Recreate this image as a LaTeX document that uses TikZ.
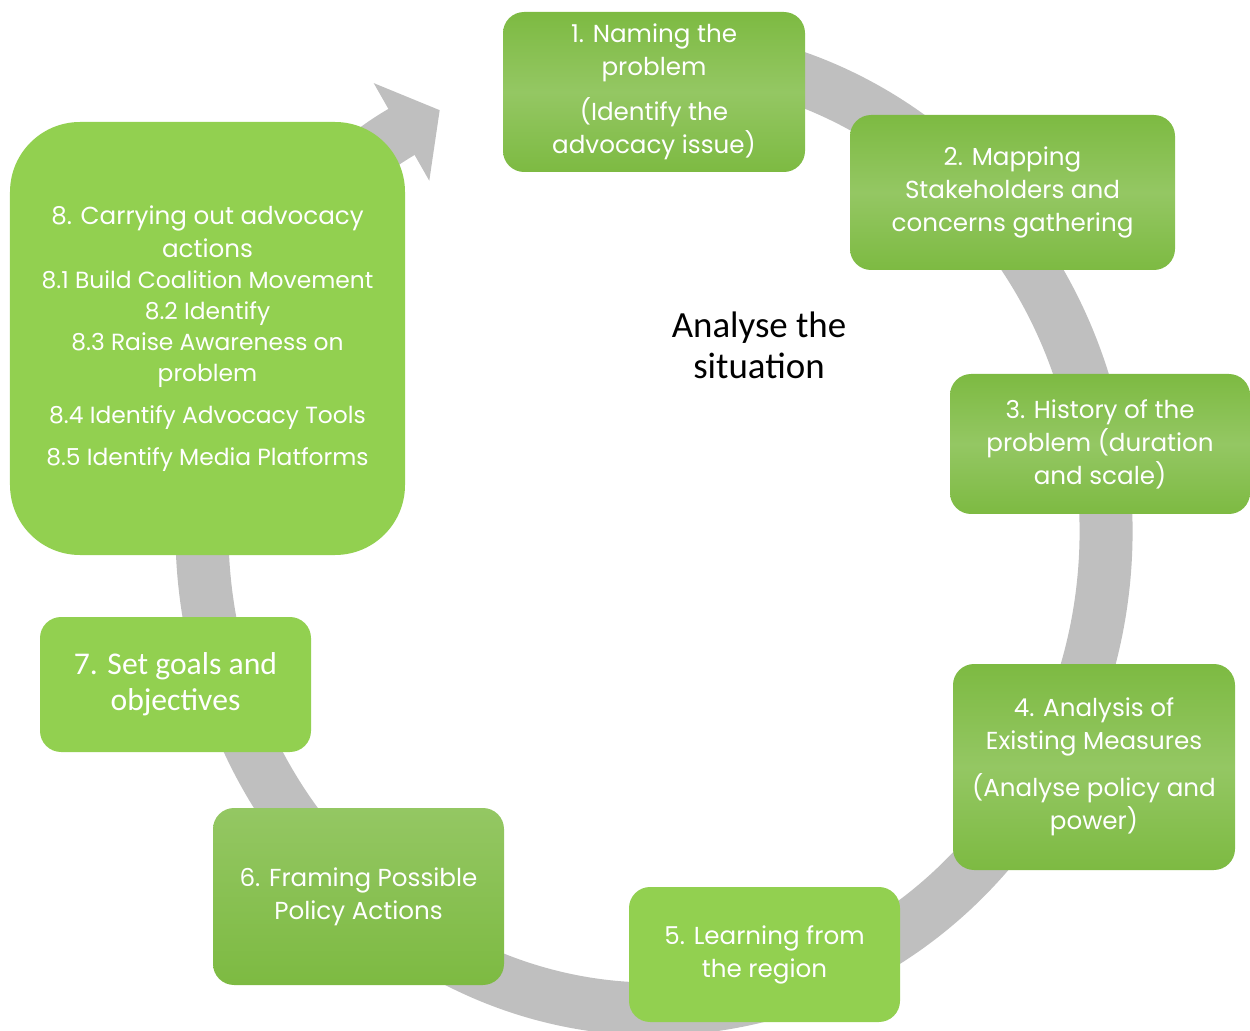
\documentclass[tikz,border=0pt]{standalone}
\usepackage{fontspec}
\newfontfamily\stepfont{Poppins}
\newfontfamily\calfont{Carlito}
\usetikzlibrary{arrows.meta}
\definecolor{ringgrey}{RGB}{191,191,191}
\definecolor{leafdark}{RGB}{125,186,66}
\definecolor{leaflight}{RGB}{148,199,99}
\definecolor{leafflat}{RGB}{146,208,80}
\newcommand{\headsize}{\fontsize{14}{17.6}\selectfont}

\begin{document}
\begin{tikzpicture}[
    stage/.style={rectangle, rounded corners=12pt, align=center, text=white, inner sep=0pt,
                  font=\stepfont\fontsize{14}{18.8}\selectfont},
    shadeband/.style={top color=leafdark, bottom color=leafdark, middle color=leaflight},
    plainfill/.style={fill=leafflat}
]
    \useasboundingbox (0,0) rectangle (25,20.6);
    \coordinate (ctr) at (13.08,9.98);
    \draw[ringgrey, line width=1.06cm, -{Triangle[length=0.88cm,width=2.2cm]}]
        ([shift={(100:9.04cm and 9.56cm)}]ctr) arc[start angle=100, end angle=-241.7, x radius=9.04cm, y radius=9.56cm];

    \node[stage, shadeband, minimum width=6.04cm, minimum height=3.2cm] (naming) at (13.08,18.76) {1. Naming the\\problem\\[0.24cm](Identify the\\advocacy issue)};
    \node[stage, shadeband, minimum width=6.5cm, minimum height=3.1cm] (mapping) at (20.25,16.75) {2. Mapping\\Stakeholders and\\concerns gathering};
    \node[stage, shadeband, minimum width=6.0cm, minimum height=2.8cm] (history) at (22.0,11.72) {3. History of the\\problem (duration\\and scale)};
    \node[stage, shadeband, minimum width=5.64cm, minimum height=4.12cm] (measures) at (21.88,5.26) {4. Analysis of\\Existing Measures\\[0.28cm](Analyse policy and\\power)};
    \node[stage, plainfill, minimum width=5.42cm, minimum height=2.7cm] (learning) at (15.29,1.51) {5. Learning from\\the region};
    \node[stage, top color=leaflight, bottom color=leafdark, minimum width=5.82cm, minimum height=3.54cm] (framing) at (7.17,2.67) {6. Framing Possible\\Policy Actions};
    \node[stage, plainfill, font=\calfont\fontsize{18}{20.5}\selectfont, minimum width=5.42cm, minimum height=2.7cm] (goals) at (3.51,6.91) {7. Set goals and\\objectives};
    \node[stage, plainfill, rounded corners=1.4cm, minimum width=7.9cm, minimum height=8.66cm,
          font=\stepfont\fontsize{13.3}{17.6}\selectfont] (actions) at (4.15,13.83)
        {\headsize 8. Carrying out advocacy\\[0.04cm]\headsize actions\\8.1 Build Coalition Movement\\8.2 Identify\\8.3 Raise Awareness on\\problem\\[0.22cm]8.4 Identify Advocacy Tools\\[0.22cm]8.5 Identify Media Platforms};

    \node[font=\calfont\fontsize{21}{23.3}\selectfont, align=center] (situation) at (15.18,13.69) {Analyse the\\situation};
\end{tikzpicture}
\end{document}
